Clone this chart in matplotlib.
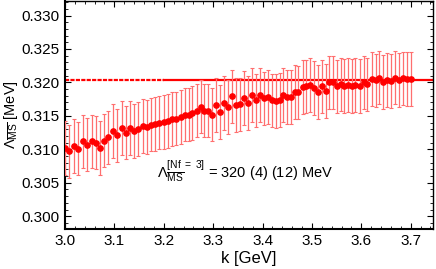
import numpy as np
import matplotlib
matplotlib.use("Agg")
import matplotlib.pyplot as plt
from matplotlib.ticker import MultipleLocator, FormatStrFormatter

plt.rcParams['font.family'] = ['Liberation Sans', 'DejaVu Sans']
plt.rcParams['mathtext.fontset'] = 'custom'
plt.rcParams['mathtext.rm'] = 'Liberation Sans'
plt.rcParams['mathtext.it'] = 'Liberation Sans:italic'
plt.rcParams['mathtext.bf'] = 'Liberation Sans:bold'
plt.rcParams['lines.scale_dashes'] = False

# momentum k [GeV] and Lambda_MS-bar [GeV]
k = [3.000, 3.009, 3.018, 3.027, 3.036, 3.045, 3.054, 3.063, 3.071, 3.080,
     3.088, 3.097, 3.106, 3.115, 3.123, 3.132, 3.140, 3.148, 3.157, 3.166,
     3.174, 3.182, 3.191, 3.200, 3.208, 3.217, 3.225, 3.235, 3.243, 3.251,
     3.258, 3.267, 3.275, 3.282, 3.290, 3.298, 3.306, 3.314, 3.322, 3.331,
     3.339, 3.347, 3.355, 3.363, 3.371, 3.379, 3.387, 3.395, 3.403, 3.412,
     3.420, 3.428, 3.435, 3.442, 3.450, 3.457, 3.466, 3.472, 3.481, 3.489,
     3.496, 3.504, 3.512, 3.520, 3.528, 3.535, 3.543, 3.550, 3.558, 3.565,
     3.573, 3.582, 3.588, 3.597, 3.605, 3.612, 3.621, 3.629, 3.636, 3.644,
     3.652, 3.660, 3.668, 3.676, 3.685, 3.693, 3.700]
lam = [0.3102, 0.3097, 0.3105, 0.3101, 0.3112, 0.3107, 0.3112, 0.3110, 0.3102, 0.3113,
       0.3118, 0.3127, 0.3121, 0.3132, 0.3125, 0.3132, 0.3127, 0.3130, 0.3135, 0.3133,
       0.3137, 0.3138, 0.3140, 0.3141, 0.3142, 0.3145, 0.3146, 0.3148, 0.3152, 0.3152,
       0.3154, 0.3158, 0.3164, 0.3158, 0.3158, 0.3152, 0.3166, 0.3156, 0.3169, 0.3163,
       0.3179, 0.3166, 0.3167, 0.3177, 0.3169, 0.3181, 0.3173, 0.3181, 0.3176, 0.3178,
       0.3173, 0.3172, 0.3174, 0.3181, 0.3178, 0.3178, 0.3186, 0.3185, 0.3193, 0.3194,
       0.3196, 0.3192, 0.3186, 0.3194, 0.3187, 0.3200, 0.3200, 0.3194, 0.3197, 0.3195,
       0.3196, 0.3195, 0.3196, 0.3195, 0.3200, 0.3197, 0.3205, 0.3203, 0.3207, 0.3201,
       0.3204, 0.3202, 0.3207, 0.3204, 0.3206, 0.3205, 0.3205]
lam_err = 0.0040

lam_fit = 0.3204
k_dashed = [3.0, 3.2]
k_solid = [3.2, 3.75]

fig = plt.figure(figsize=(4.36, 2.69), dpi=100)
ax = fig.add_axes([0.149, 0.149, 0.844, 0.848])

ax.plot(k_dashed, [lam_fit, lam_fit], color='red', lw=1.6, dashes=(3.0, 0.9))
ax.plot(k_solid, [lam_fit, lam_fit], color='red', lw=1.6)

ax.errorbar(k, lam, yerr=lam_err, fmt='o', color='red', ms=3.8,
            ecolor='#ff6f6f', elinewidth=0.9, capsize=1.3, capthick=0.8, zorder=3)

ax.text(3.186, 0.3058,
        r'$\Lambda_{\overline{\mathrm{MS}}}^{[\mathrm{Nf\ =\ 3}]}$ = 320 (4) (12) MeV',
        fontsize=10.5)

ax.set_xlim(3.0, 3.745)
ax.set_ylim(0.2981, 0.3322)
ax.xaxis.set_major_locator(MultipleLocator(0.1))
ax.xaxis.set_minor_locator(MultipleLocator(0.02))
ax.yaxis.set_major_locator(MultipleLocator(0.005))
ax.yaxis.set_minor_locator(MultipleLocator(0.001))
ax.xaxis.set_major_formatter(FormatStrFormatter('%.1f'))
ax.yaxis.set_major_formatter(FormatStrFormatter('%.3f'))
ax.tick_params(which='both', direction='in', top=True, right=True, labelsize=11)
ax.tick_params(which='major', length=4, width=0.8, pad=4)
ax.tick_params(which='minor', length=2, width=0.6)
for side in ['left', 'bottom']:
    ax.spines[side].set_linewidth(1.5)
for side in ['top', 'right']:
    ax.spines[side].set_linewidth(1.0)

ax.set_xlabel('k [GeV]', fontsize=12, labelpad=2)
ax.set_ylabel(r'$\Lambda_{\overline{\mathrm{MS}}}$ [MeV]', fontsize=10.5, labelpad=1)

fig.savefig('out.png', dpi=100)
